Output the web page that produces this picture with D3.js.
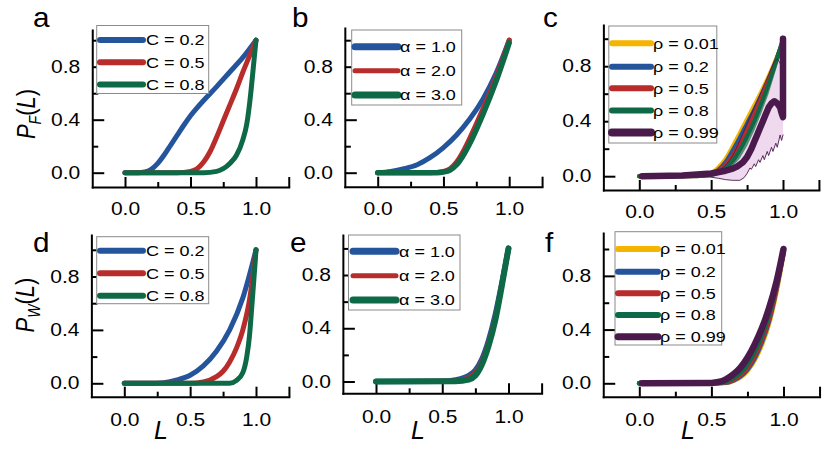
<!DOCTYPE html>
<html><head><meta charset="utf-8">
<script src="https://cdn.jsdelivr.net/npm/d3@7"></script>
<style>body{margin:0;background:#fff}svg{display:block}</style>
</head><body>
<svg id="chart" width="830" height="452"></svg>
<script>
// ---------- tick definitions ----------
const xTicksMajor = [0, 0.5, 1.0, 1.25];
const xTickLabels = ["0.0", "0.5", "1.0", ""];
const xTicksMinor = [0.25, 0.75];
const yTicksMajor = [0, 0.4, 0.8];
const yTickLabels = ["0.0", "0.4", "0.8"];
const yTicksMinor = [0.2, 0.6, 1.0];

// ---------- legend labels ----------
const labelsC = ["C = 0.2", "C = 0.5", "C = 0.8"];
const labelsAlpha = ["\u03b1 = 1.0", "\u03b1 = 2.0", "\u03b1 = 3.0"];
const labelsRho = ["\u03c1 = 0.01", "\u03c1 = 0.2", "\u03c1 = 0.5", "\u03c1 = 0.8", "\u03c1 = 0.99"];

// ---------- panel a : P_F(L), varying C ----------
const aC02 = [[0,0],[0.1,0],[0.15,0.005],[0.2,0.025],[0.25,0.07],[0.3,0.135],[0.35,0.21],[0.4,0.285],[0.45,0.36],[0.5,0.43],[0.55,0.49],[0.6,0.545],[0.7,0.65],[0.8,0.76],[0.9,0.87],[1.0,1.0]];
const aC05 = [[0,0],[0.4,0],[0.5,0.01],[0.55,0.03],[0.6,0.08],[0.65,0.16],[0.7,0.27],[0.75,0.39],[0.8,0.51],[0.85,0.63],[0.9,0.76],[0.95,0.88],[1.0,1.0]];
const aC08 = [[0,0],[0.6,0],[0.7,0.01],[0.75,0.03],[0.8,0.07],[0.85,0.13],[0.9,0.25],[0.93,0.37],[0.96,0.6],[0.98,0.8],[1.0,1.0]];

// ---------- panel b : P_F(L), varying alpha ----------
const bA1 = [[0,0],[0.1,0.01],[0.2,0.03],[0.3,0.06],[0.4,0.115],[0.5,0.19],[0.6,0.285],[0.7,0.405],[0.8,0.555],[0.9,0.75],[1.0,1.0]];
const bA2 = [[0,0],[0.4,0],[0.5,0.01],[0.55,0.03],[0.6,0.08],[0.65,0.16],[0.7,0.26],[0.8,0.48],[0.9,0.72],[1.0,1.0]];
const bA3 = [[0,0],[0.45,0],[0.5,0.005],[0.55,0.02],[0.6,0.06],[0.65,0.13],[0.7,0.22],[0.8,0.44],[0.9,0.69],[1.0,0.98]];

// ---------- panel c : P_F(L), varying rho ----------
const cR001 = [[0,0],[0.4,0.003],[0.5,0.02],[0.55,0.06],[0.6,0.12],[0.65,0.21],[0.7,0.31],[0.75,0.41],[0.8,0.51],[0.85,0.61],[0.9,0.72],[0.95,0.84],[1.0,0.97]];
const cR02 = [[0,0],[0.4,0.002],[0.5,0.012],[0.55,0.045],[0.6,0.1],[0.65,0.185],[0.7,0.28],[0.75,0.38],[0.8,0.48],[0.85,0.585],[0.9,0.695],[0.95,0.83],[1.0,0.98]];
const cR05 = [[0,0],[0.45,0.003],[0.5,0.012],[0.55,0.04],[0.6,0.085],[0.65,0.15],[0.7,0.24],[0.75,0.34],[0.8,0.45],[0.85,0.57],[0.9,0.7],[0.95,0.84],[1.0,0.98]];
const cR05Lo = [[0.45,0],[0.5,0.0],[0.55,0.02],[0.6,0.06],[0.65,0.12],[0.7,0.21],[0.75,0.31],[0.8,0.42],[0.85,0.54],[0.9,0.67],[0.95,0.81],[1.0,0.95]];
const cR05Hi = [[0.45,0.005],[0.5,0.02],[0.55,0.05],[0.6,0.095],[0.65,0.165],[0.7,0.255],[0.75,0.355],[0.8,0.465],[0.85,0.585],[0.9,0.715],[0.95,0.85],[1.0,0.99]];
const cR08 = [[0,0],[0.5,0.01],[0.6,0.06],[0.65,0.11],[0.7,0.19],[0.75,0.29],[0.8,0.4],[0.85,0.53],[0.9,0.67],[0.95,0.83],[1.0,1.0]];
const cR08Lo = [[0.5,0],[0.6,0.03],[0.65,0.07],[0.7,0.13],[0.75,0.22],[0.8,0.33],[0.85,0.46],[0.9,0.6],[0.95,0.77],[1.0,0.95]];
const cR08Hi = [[0.5,0.015],[0.6,0.08],[0.65,0.13],[0.7,0.21],[0.75,0.31],[0.8,0.43],[0.85,0.56],[0.9,0.7],[0.95,0.86],[1.0,1.03]];
const cR099 = [[0.02,0],[0.3,0.005],[0.5,0.02],[0.6,0.04],[0.65,0.055],[0.68,0.07],[0.72,0.1],[0.75,0.14],[0.78,0.2],[0.8,0.25],[0.82,0.3],[0.84,0.35],[0.86,0.4],[0.88,0.45],[0.9,0.5],[0.92,0.53],[0.94,0.545],[0.96,0.53],[0.98,0.5],[0.99,0.46],[1.0,0.43],[1.0,1.0]];
const cR099Lo = [[0.45,0],[0.55,-0.015],[0.6,-0.025],[0.65,-0.03],[0.7,-0.03],[0.73,-0.01],[0.75,0.02],[0.77,0.06],[0.78,0.05],[0.8,0.09],[0.81,0.07],[0.83,0.12],[0.84,0.1],[0.86,0.15],[0.87,0.12],[0.89,0.18],[0.9,0.15],[0.92,0.21],[0.93,0.18],[0.95,0.24],[0.96,0.21],[0.98,0.3],[0.99,0.26],[1.0,0.3]];
const cR099Hi = [[0.45,0],[0.55,0.04],[0.6,0.08],[0.65,0.15],[0.7,0.26],[0.75,0.38],[0.8,0.5],[0.85,0.62],[0.9,0.74],[0.94,0.83],[0.96,0.85],[0.98,0.82],[1.0,0.75]];

// ---------- panel d : P_W(L), varying C ----------
const dC02 = [[0,0],[0.2,0],[0.3,0.005],[0.4,0.025],[0.5,0.06],[0.6,0.13],[0.7,0.24],[0.8,0.4],[0.9,0.64],[1.0,1.0]];
const dC05 = [[0,0],[0.5,0],[0.6,0.01],[0.7,0.05],[0.75,0.09],[0.8,0.16],[0.85,0.26],[0.9,0.4],[0.95,0.62],[1.0,1.0]];
const dC08 = [[0,0],[0.8,0],[0.85,0.02],[0.9,0.08],[0.93,0.2],[0.95,0.35],[0.97,0.6],[0.99,0.86],[1.0,1.0]];

// ---------- panel e : P_W(L), varying alpha ----------
const eA1 = [[0,0],[0.5,0.002],[0.6,0.012],[0.7,0.045],[0.75,0.085],[0.8,0.17],[0.85,0.31],[0.9,0.5],[0.95,0.74],[1.0,1.0]];
const eA2 = [[0,0],[0.55,0.002],[0.65,0.012],[0.7,0.03],[0.75,0.065],[0.8,0.15],[0.85,0.29],[0.9,0.48],[0.95,0.73],[1.0,1.0]];
const eA3 = [[0,0],[0.6,0.002],[0.7,0.015],[0.75,0.045],[0.8,0.13],[0.85,0.27],[0.9,0.46],[0.95,0.72],[1.0,1.0]];

// ---------- panel f : P_W(L), varying rho ----------
const fR001 = [[0,0],[0.6,0.005],[0.65,0.018],[0.7,0.045],[0.75,0.095],[0.8,0.175],[0.85,0.29],[0.9,0.45],[0.95,0.68],[1.0,0.97]];
const fR02 = [[0,0],[0.6,0.006],[0.65,0.022],[0.7,0.052],[0.75,0.105],[0.8,0.19],[0.85,0.31],[0.9,0.47],[0.95,0.7],[1.0,0.98]];
const fR05 = [[0,0],[0.55,0.003],[0.6,0.01],[0.65,0.028],[0.7,0.062],[0.75,0.12],[0.8,0.21],[0.85,0.33],[0.9,0.49],[0.95,0.71],[1.0,0.99]];
const fR08 = [[0,0],[0.55,0.005],[0.6,0.015],[0.65,0.04],[0.7,0.08],[0.75,0.145],[0.8,0.24],[0.85,0.36],[0.9,0.52],[0.95,0.73],[1.0,1.0]];
const fR099 = [[0.02,0],[0.5,0.003],[0.55,0.01],[0.6,0.03],[0.65,0.065],[0.7,0.115],[0.75,0.19],[0.8,0.29],[0.85,0.41],[0.9,0.56],[0.95,0.75],[1.0,1.0]];

// ---------- styling ----------
const COL = {blue:"#24559c", red:"#b82c2c", green:"#0e6a46", yellow:"#f5b400", purple:"#4b1a4c"};
const FONT = "'Liberation Sans', Arial, sans-serif";
const SX = 1.2; // horizontal glyph stretch of the original figure

const svg = d3.select("#chart");

const panels = [
  {id:"a", x0:125, x1:256, y0:172.7, y1:40.2, bottom:187, top:30, xPad:16, letter:[33,27],
   series:[{d:aC02,c:COL.blue,w:5},{d:aC05,c:COL.red,w:5},{d:aC08,c:COL.green,w:5}],
   legend:{x:96.7,y:25.5,w:112,h:68,rows:[40,62.3,84.5],sx:[100,143],tx:146,labels:labelsC,
           items:[{c:COL.blue,w:6},{c:COL.red,w:6},{c:COL.green,w:6}]}},
  {id:"b", x0:377.7, x1:509.2, y0:172.7, y1:40.2, bottom:186.7, top:28, xPad:16, letter:[292,27],
   series:[{d:bA1,c:COL.blue,w:5},{d:bA2,c:COL.red,w:5},{d:bA3,c:COL.green,w:5.5}],
   legend:{x:351.7,y:30,w:110,h:75,rows:[46.7,70.7,95],sx:[355,398],tx:400,labels:labelsAlpha,
           items:[{c:COL.blue,w:7},{c:COL.red,w:5},{c:COL.green,w:7}]}},
  {id:"c", x0:639.3, x1:783, y0:176.2, y1:38.7, bottom:190, top:25, xPad:16, letter:[543,27],
   series:[], legend:{x:608.8,y:26,w:108,h:117,rows:[43.3,66.7,88.3,110.5,132.5],sx:[612,651],tx:653,labels:labelsRho,
           items:[{c:COL.yellow,w:6},{c:COL.blue,w:6},{c:COL.red,w:6},{c:COL.green,w:6},{c:COL.purple,w:8}]}},
  {id:"d", x0:124.3, x1:256, y0:383.3, y1:249.8, bottom:396.7, top:235, xPad:17, letter:[33,252],
   series:[{d:dC02,c:COL.blue,w:5},{d:dC05,c:COL.red,w:5},{d:dC08,c:COL.green,w:5}],
   legend:{x:96.7,y:236.7,w:112,h:67,rows:[250.7,273.3,295.7],sx:[100,143],tx:146,labels:labelsC,
           items:[{c:COL.blue,w:6},{c:COL.red,w:6},{c:COL.green,w:6}]}},
  {id:"e", x0:376, x1:508.5, y0:381.5, y1:248.4, bottom:393.3, top:235, xPad:17, letter:[290,252],
   series:[{d:eA1,c:COL.blue,w:5.5},{d:eA2,c:COL.red,w:5},{d:eA3,c:COL.green,w:6}],
   legend:{x:348.5,y:235,w:111.5,h:75,rows:[251.3,275.7,300],sx:[353,396],tx:399,labels:labelsAlpha,
           items:[{c:COL.blue,w:7},{c:COL.red,w:5},{c:COL.green,w:7}]}},
  {id:"f", x0:639.3, x1:783.5, y0:383.3, y1:249, bottom:396.7, top:233, xPad:17, letter:[545,252],
   series:[{d:fR001,c:COL.yellow,w:5},{d:fR02,c:COL.blue,w:5},{d:fR05,c:COL.red,w:5},{d:fR08,c:COL.green,w:5},{d:fR099,c:COL.purple,w:6.5}],
   legend:{x:615,y:231.7,w:106.7,h:113.3,rows:[249,271.7,293.3,315,336.7],sx:[618,658],tx:660,labels:labelsRho,
           items:[{c:COL.yellow,w:6},{c:COL.blue,w:6},{c:COL.red,w:6},{c:COL.green,w:6},{c:COL.purple,w:7}]}}
];

panels.forEach(p => {
  const xs = d3.scaleLinear().domain([0,1]).range([p.x0, p.x1]);
  const ys = d3.scaleLinear().domain([0,1]).range([p.y0, p.y1]);
  const xAx = xs.copy().domain([-0.25, 1.25]).range([xs(-0.25), xs(1.25)]);
  const yAx = ys.copy().domain([ys.invert(p.bottom), ys.invert(p.top)]).range([p.bottom, p.top]);
  const g = svg.append("g");
  const left = xs(-0.25);

  const styleAxis = sel => {
    sel.attr("font-family", FONT).attr("font-size", 17.5);
    sel.selectAll("path.domain").attr("stroke", "#000").attr("stroke-width", 2).attr("stroke-linecap", "square");
    sel.selectAll(".tick line").attr("stroke", "#000").attr("stroke-width", 2);
    sel.selectAll(".tick text").attr("fill", "#000").attr("transform", `scale(${SX},1)`);
  };
  g.append("g").attr("transform", `translate(0,${p.bottom})`)
    .call(d3.axisBottom(xAx).tickValues(xTicksMinor).tickFormat("").tickSizeInner(-5).tickSizeOuter(0))
    .call(s => s.select(".domain").remove()).call(styleAxis);
  g.append("g").attr("transform", `translate(${left},0)`)
    .call(d3.axisLeft(yAx).tickValues(yTicksMinor).tickFormat("").tickSizeInner(-6).tickSizeOuter(0))
    .call(s => s.select(".domain").remove()).call(styleAxis);
  g.append("g").attr("transform", `translate(0,${p.bottom})`)
    .call(d3.axisBottom(xAx).tickValues(xTicksMajor).tickFormat((d,i) => xTickLabels[i]).tickSizeInner(-10).tickSizeOuter(0).tickPadding(p.xPad))
    .call(styleAxis);
  g.append("g").attr("transform", `translate(${left},0)`)
    .call(d3.axisLeft(yAx).tickValues(yTicksMajor).tickFormat((d,i) => yTickLabels[i]).tickSizeInner(-12).tickSizeOuter(0).tickPadding(10))
    .call(styleAxis);

  const line = d3.line().x(d => xs(d[0])).y(d => ys(d[1])).curve(d3.curveMonotoneX);
  const lineLin = d3.line().x(d => xs(d[0])).y(d => ys(d[1]));
  const band = (lo, hi) => {
    const pts = lo.map(d => [xs(d[0]), ys(d[1])]).concat(hi.slice().reverse().map(d => [xs(d[0]), ys(d[1])]));
    return "M" + pts.map(q => q.join(",")).join("L") + "Z";
  };
  const curves = g.append("g").attr("fill", "none").attr("stroke-linecap", "round").attr("stroke-linejoin", "round");

  if (p.id === "c") {
    curves.append("path").attr("d", band(cR099Lo, cR099Hi)).attr("fill", "#efd9ee").attr("stroke", "none");
    curves.append("path").attr("d", line(cR001)).attr("stroke", COL.yellow).attr("stroke-width", 5);
    curves.append("path").attr("d", line(cR02)).attr("stroke", COL.blue).attr("stroke-width", 4.5);
    curves.append("path").attr("d", band(cR05Lo, cR05Hi)).attr("fill", COL.red).attr("fill-opacity", 0.85).attr("stroke", "none");
    curves.append("path").attr("d", line(cR05)).attr("stroke", COL.red).attr("stroke-width", 4);
    curves.append("path").attr("d", band(cR08Lo, cR08Hi)).attr("fill", "#3d7e62").attr("fill-opacity", 0.85).attr("stroke", "none");
    curves.append("path").attr("d", line(cR08)).attr("stroke", COL.green).attr("stroke-width", 4);
    curves.append("path").attr("d", lineLin(cR099Lo)).attr("stroke", COL.purple).attr("stroke-width", 0.9);
    curves.append("path").attr("d", line(cR099Hi)).attr("stroke", COL.purple).attr("stroke-width", 0.9);
    curves.append("path").attr("d", lineLin(cR099)).attr("stroke", COL.purple).attr("stroke-width", 6.5);
  } else {
    p.series.forEach(s => {
      curves.append("path").attr("d", line(s.d)).attr("stroke", s.c).attr("stroke-width", s.w);
    });
  }

  const L = p.legend;
  const lg = g.append("g");
  lg.append("rect").attr("x", L.x).attr("y", L.y).attr("width", L.w).attr("height", L.h)
    .attr("fill", "#fff").attr("stroke", "#8a8a8a").attr("stroke-width", 1);
  L.items.forEach((it, i) => {
    lg.append("line").attr("x1", L.sx[0]).attr("x2", L.sx[1]).attr("y1", L.rows[i]).attr("y2", L.rows[i])
      .attr("stroke", it.c).attr("stroke-width", it.w).attr("stroke-linecap", "round");
    lg.append("text").attr("transform", `translate(${L.tx},${L.rows[i]}) scale(${SX},1)`)
      .attr("dy", "0.36em").attr("font-family", FONT).attr("font-size", 15).attr("fill", "#000")
      .text(L.labels[i]);
  });

  g.append("text").attr("transform", `translate(${p.letter[0]},${p.letter[1]}) scale(1.1,1)`)
    .attr("font-family", FONT).attr("font-size", 27).attr("fill", "#000").text(p.id);
});

function yTitle(cx, cy, sub) {
  const t = svg.append("text").attr("transform", `translate(${cx},${cy}) rotate(-90) scale(1,${SX})`)
    .attr("text-anchor", "middle").attr("dy", "0.35em").attr("font-family", FONT).attr("font-size", 22).attr("fill", "#000");
  t.append("tspan").attr("font-style", "italic").text("P");
  t.append("tspan").attr("font-style", "italic").attr("font-size", 14).attr("dy", 5).text(sub);
  t.append("tspan").attr("dy", -5).text("(");
  t.append("tspan").attr("font-style", "italic").text("L");
  t.append("tspan").text(")");
}
yTitle(26, 114, "F");
yTitle(25, 305, "W");

[161, 418, 688].forEach(cx => {
  svg.append("text").attr("x", cx).attr("y", 439).attr("text-anchor", "middle")
    .attr("font-family", FONT).attr("font-size", 25).attr("font-style", "italic").attr("fill", "#000").text("L");
});
</script>
</body></html>
